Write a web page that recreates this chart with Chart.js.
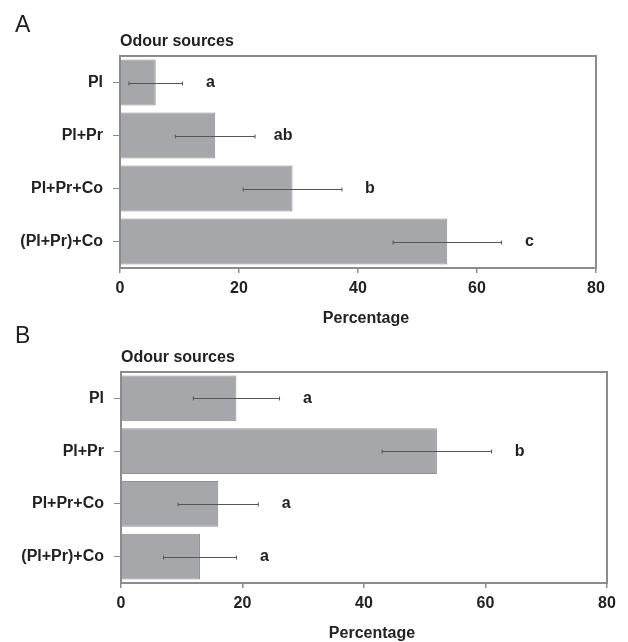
<!DOCTYPE html>
<html><head><meta charset="utf-8">
<script src="https://cdn.jsdelivr.net/npm/chart.js@4/dist/chart.umd.min.js"></script>
<style>
html,body{margin:0;padding:0;background:#fff;}
#wrap{position:relative;width:628px;height:642px;overflow:hidden;font-family:"Liberation Sans",Arial,sans-serif;}
.panel{position:absolute;left:0;}
.tag{position:absolute;font-size:23px;color:#222;z-index:5;line-height:1;}
</style></head><body>
<div id="wrap">
 <canvas id="cA" class="panel" style="top:0" width="628" height="330"></canvas>
 <canvas id="cB" class="panel" style="top:321px" width="628" height="321"></canvas>
 <div class="tag" style="left:15px;top:13px">A</div>
 <div class="tag" style="left:15px;top:324px">B</div>
</div>
<script>
const categories = ['Pl', 'Pl+Pr', 'Pl+Pr+Co', '(Pl+Pr)+Co'];
const valuesA = [6, 16, 29, 55];
const errorsA = [4.5, 6.7, 8.3, 9.1];
const lettersA = ['a', 'ab', 'b', 'c'];
const valuesB = [19, 52, 16, 13];
const errorsB = [7.1, 9.0, 6.6, 6.0];
const lettersB = ['a', 'b', 'a', 'a'];
const xTicks = [0, 20, 40, 60, 80];
const yTitle = 'Odour sources';
const xTitle = 'Percentage';

const FAM = '"Liberation Sans", Arial, sans-serif';
const TXT = '#222';
const LINE = '#8c8c8c';

const annot = {
  id: 'annot',
  afterDatasetsDraw(chart, args, opts) {
    const ctx = chart.ctx, ca = chart.chartArea, xs = chart.scales.x;
    const meta = chart.getDatasetMeta(0);
    const data = chart.data.datasets[0].data;
    ctx.save();
    ctx.strokeStyle = LINE; ctx.lineWidth = 2;
    ctx.strokeRect(ca.left, ca.top, ca.right - ca.left, ca.bottom - ca.top);
    meta.data.forEach((bar, i) => {
      const v = data[i], e = opts.errors[i];
      const x1 = xs.getPixelForValue(v - e), x2 = xs.getPixelForValue(v + e);
      const y = Math.round(bar.y) + 0.5;
      ctx.strokeStyle = '#555'; ctx.lineWidth = 1;
      ctx.beginPath();
      ctx.moveTo(x1, y); ctx.lineTo(x2, y);
      ctx.moveTo(x1, y - 2); ctx.lineTo(x1, y + 2);
      ctx.moveTo(x2, y - 2); ctx.lineTo(x2, y + 2);
      ctx.stroke();
      ctx.fillStyle = TXT; ctx.font = 'bold 16px ' + FAM;
      ctx.textAlign = 'center'; ctx.textBaseline = 'middle';
      ctx.fillText(opts.letters[i], x2 + 28, bar.y);
    });
    ctx.fillStyle = TXT;
    ctx.textAlign = 'left'; ctx.textBaseline = 'middle';
    ctx.font = 'bold 16px ' + FAM;
    ctx.fillText(yTitle, ca.left, ca.top - 14);
    ctx.textAlign = 'center';
    ctx.font = 'bold 16px ' + FAM;
    ctx.fillText(xTitle, (ca.left + ca.right) / 2 + 8, ca.bottom + 51);
    ctx.restore();
  }
};

function makeChart(id, values, errors, letters, pad, yWidth, xHeight) {
  return new Chart(document.getElementById(id), {
    type: 'bar',
    data: {
      labels: categories,
      datasets: [{
        data: values,
        backgroundColor: '#a6a7aa',
        borderColor: '#8e8f92',
        borderWidth: 1,
        categoryPercentage: 0.87,
        barPercentage: 1
      }]
    },
    options: {
      indexAxis: 'y', responsive: false, animation: false, events: [],
      layout: { padding: pad },
      plugins: { legend: { display: false }, tooltip: { enabled: false },
        annot: { errors: errors, letters: letters } },
      scales: {
        x: {
          min: 0, max: 80,
          afterBuildTicks: s => { s.ticks = xTicks.map(v => ({ value: v })); },
          afterFit: s => { s.height = xHeight; },
          grid: { drawOnChartArea: false, drawTicks: true, tickLength: 5, color: LINE, lineWidth: 1.5 },
          border: { display: false },
          ticks: { font: { family: FAM, size: 16, weight: 'bold' }, color: TXT, padding: 6, maxRotation: 0 }
        },
        y: {
          afterFit: s => { s.width = yWidth; },
          grid: { offset: false, drawOnChartArea: false, drawTicks: true, tickLength: 7, color: LINE },
          border: { display: false },
          ticks: { font: { family: FAM, size: 16, weight: 'bold' }, color: TXT, padding: 10 }
        }
      }
    },
    plugins: [annot]
  });
}

makeChart('cA', valuesA, errorsA, lettersA, { top: 56, right: 32, bottom: 3, left: 0 }, 120, 59);
makeChart('cB', valuesB, errorsB, lettersB, { top: 51, right: 21, bottom: 0, left: 0 }, 121, 59);
</script>
</body></html>
